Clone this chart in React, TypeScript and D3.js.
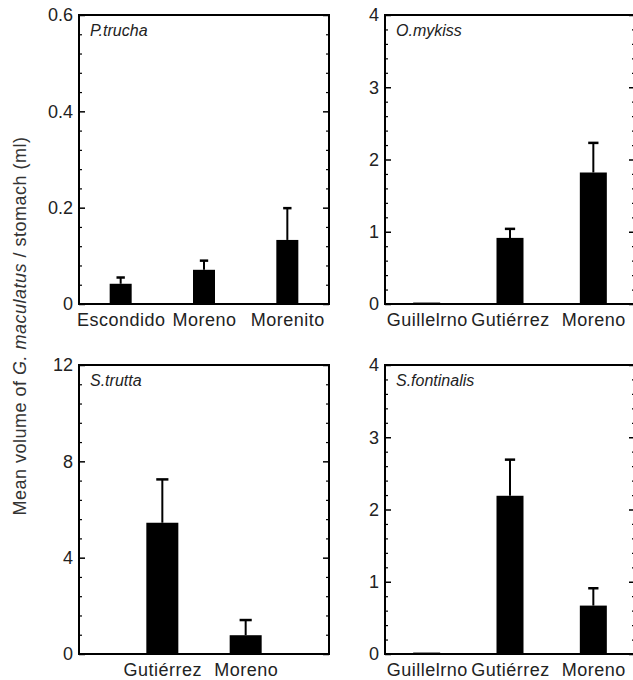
import React, { useRef, useEffect } from "react";
import * as d3 from "d3";

// species shown in each panel (reading order)
const SPECIES = ["P.trucha", "O.mykiss", "S.trutta", "S.fontinalis"];

// sites per panel
const TRUCHA_SITES = ["Escondido", "Moreno", "Morenito"];
const MYKISS_SITES = ["Guillelrno", "Gutiérrez", "Moreno"];
const TRUTTA_SITES = ["Gutiérrez", "Moreno"];
const FONTINALIS_SITES = ["Guillelrno", "Gutiérrez", "Moreno"];

// mean volume (ml) and standard error
const TRUCHA_MEAN = [0.042, 0.071, 0.133];
const TRUCHA_SE = [0.013, 0.019, 0.066];
const MYKISS_MEAN = [0.02, 0.915, 1.82];
const MYKISS_SE = [0, 0.125, 0.41];
const TRUTTA_MEAN = [5.45, 0.78];
const TRUTTA_SE = [1.8, 0.63];
const FONTINALIS_MEAN = [0.02, 2.19, 0.67];
const FONTINALIS_SE = [0, 0.5, 0.24];

// y axes
const TRUCHA_TICKS = [0, 0.2, 0.4, 0.6];
const MYKISS_TICKS = [0, 1, 2, 3, 4];
const TRUTTA_TICKS = [0, 4, 8, 12];
const FONTINALIS_TICKS = [0, 1, 2, 3, 4];

const FONT = "'Liberation Sans', Arial, Helvetica, sans-serif";

export default function App() {
    const svgRef = useRef<SVGSVGElement>(null);

    useEffect(() => {
        const width = 633, height = 680;
        const svg = d3.select(svgRef.current);
        svg.selectAll("*").remove();

        const panels = [
            { sites: TRUCHA_SITES, mean: TRUCHA_MEAN, se: TRUCHA_SE, ticks: TRUCHA_TICKS, x0: 79, y0: 15, barW: 22 },
            { sites: MYKISS_SITES, mean: MYKISS_MEAN, se: MYKISS_SE, ticks: MYKISS_TICKS, x0: 385, y0: 15, barW: 27 },
            { sites: TRUTTA_SITES, mean: TRUTTA_MEAN, se: TRUTTA_SE, ticks: TRUTTA_TICKS, x0: 79, y0: 365, barW: 32 },
            { sites: FONTINALIS_SITES, mean: FONTINALIS_MEAN, se: FONTINALIS_SE, ticks: FONTINALIS_TICKS, x0: 385, y0: 365, barW: 27 },
        ];
        const pw = 250, ph = 289;

        panels.forEach((p, pi) => {
            const x1 = p.x0 + pw, y1 = p.y0 + ph;
            const top = p.ticks[p.ticks.length - 1];
            const y = d3.scaleLinear().domain([0, top]).range([y1, p.y0]);
            const x = d3.scalePoint<string>()
                .domain(p.sites)
                .range([p.x0, x1])
                .padding(p.sites.length === 2 ? 1 : 0.5);

            // minor ticks: 5 per major interval
            const step = p.ticks[1] - p.ticks[0];
            const minor = d3.range(0, p.ticks.length - 1 + 1e-9, 0.2)
                .map(k => +(k * step).toFixed(4))
                .filter(v => !p.ticks.some(t => Math.abs(t - v) < 1e-6));

            const g = svg.append("g");

            // bars
            g.selectAll("rect.bar")
                .data(p.sites)
                .join("rect")
                .attr("class", "bar")
                .attr("x", d => (x(d) as number) - p.barW / 2)
                .attr("y", (d, i) => y(p.mean[i]))
                .attr("width", p.barW)
                .attr("height", (d, i) => y(0) - y(p.mean[i]))
                .attr("fill", "#000");

            // error bars (upper half only)
            const withErr = p.sites.filter((d, i) => p.se[i] > 0);
            const idx = (d: string) => p.sites.indexOf(d);
            g.selectAll("line.err")
                .data(withErr)
                .join("line")
                .attr("class", "err")
                .attr("x1", d => x(d) as number)
                .attr("x2", d => x(d) as number)
                .attr("y1", d => y(p.mean[idx(d)]))
                .attr("y2", d => y(p.mean[idx(d)] + p.se[idx(d)]))
                .attr("stroke", "#000")
                .attr("stroke-width", 2);
            g.selectAll("line.cap")
                .data(withErr)
                .join("line")
                .attr("class", "cap")
                .attr("x1", d => (x(d) as number) - p.barW * 0.19)
                .attr("x2", d => (x(d) as number) + p.barW * 0.19)
                .attr("y1", d => y(p.mean[idx(d)] + p.se[idx(d)]))
                .attr("y2", d => y(p.mean[idx(d)] + p.se[idx(d)]))
                .attr("stroke", "#000")
                .attr("stroke-width", 2.5);

            // left axis
            g.append("g")
                .attr("transform", `translate(${p.x0},0)`)
                .call(d3.axisLeft(y).tickValues(p.ticks).tickSizeInner(-6).tickSizeOuter(0).tickPadding(6)
                    .tickFormat(d => d3.format("~g")(d as number)))
                .call(a => a.select(".domain").remove())
                .call(a => a.selectAll("line").attr("stroke", "#000").attr("stroke-width", 1.5))
                .selectAll("text")
                .style("font-size", "18px")
                .style("font-family", FONT)
                .style("fill", "#222");
            g.append("g")
                .attr("transform", `translate(${p.x0},0)`)
                .call(d3.axisLeft(y).tickValues(minor).tickSizeInner(-3).tickSizeOuter(0).tickFormat(() => ""))
                .call(a => a.select(".domain").remove())
                .call(a => a.selectAll("line").attr("stroke", "#000").attr("stroke-width", 1.2));

            // right axis, ticks only
            g.append("g")
                .attr("transform", `translate(${x1},0)`)
                .call(d3.axisRight(y).tickValues(p.ticks).tickSizeInner(-6).tickSizeOuter(0).tickFormat(() => ""))
                .call(a => a.select(".domain").remove())
                .call(a => a.selectAll("line").attr("stroke", "#000").attr("stroke-width", 1.5));
            g.append("g")
                .attr("transform", `translate(${x1},0)`)
                .call(d3.axisRight(y).tickValues(minor).tickSizeInner(-3).tickSizeOuter(0).tickFormat(() => ""))
                .call(a => a.select(".domain").remove())
                .call(a => a.selectAll("line").attr("stroke", "#000").attr("stroke-width", 1.2));

            // site labels
            g.append("g")
                .attr("transform", `translate(0,${y1})`)
                .call(d3.axisBottom(x).tickSize(0).tickPadding(9))
                .call(a => a.select(".domain").remove())
                .selectAll("text")
                .style("font-size", "18px")
                .style("font-family", FONT)
                .style("letter-spacing", "0.5px")
                .style("fill", "#222");

            // frame
            g.append("rect")
                .attr("x", p.x0)
                .attr("y", p.y0)
                .attr("width", pw)
                .attr("height", ph)
                .attr("fill", "none")
                .attr("stroke", "#000")
                .attr("stroke-width", 2);

            // species name
            g.append("text")
                .attr("x", p.x0 + 11)
                .attr("y", p.y0 + 21)
                .style("font-size", "16px")
                .style("font-style", "italic")
                .style("font-family", FONT)
                .style("fill", "#222")
                .text(SPECIES[pi]);
        });

        // shared y title
        const title = svg.append("text")
            .attr("transform", `translate(26,326) rotate(-90)`)
            .attr("text-anchor", "middle")
            .style("font-size", "18px")
            .style("font-family", FONT)
            .style("letter-spacing", "0.5px")
            .style("fill", "#333");
        title.append("tspan").text("Mean volume of ");
        title.append("tspan").style("font-style", "italic").text("G. maculatus");
        title.append("tspan").text(" / stomach (ml)");

        svg.attr("width", width).attr("height", height);
    }, []);

    return (
        <svg
            ref={svgRef}
            width={633}
            height={680}
            style={{ position: "absolute", left: 0, top: 0, background: "#fff", display: "block" }}
        />
    );
}
